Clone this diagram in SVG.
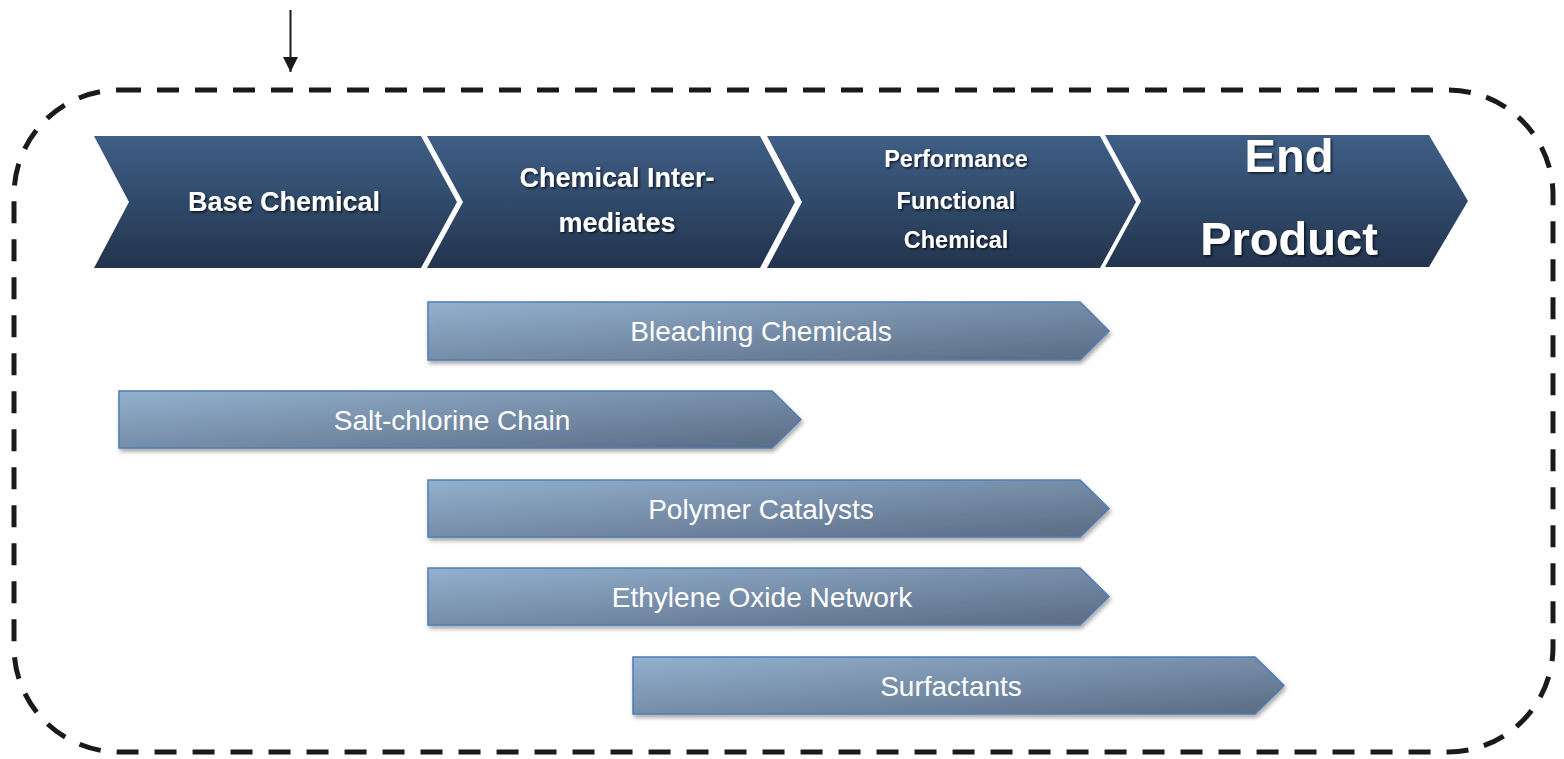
<svg xmlns="http://www.w3.org/2000/svg" width="1564" height="759" viewBox="0 0 1564 759">
<style>
.stage{fill:url(#gStage)}
.bar{fill:url(#gBar);stroke:#4e7db3;stroke-width:1.5;filter:url(#fShadow)}
.st{font-family:"Liberation Sans",Arial,sans-serif;font-weight:bold;fill:#ffffff;text-anchor:middle;filter:url(#fText)}
.bt{font-family:"Liberation Sans",Arial,sans-serif;font-size:28px;fill:#ffffff;text-anchor:middle}
.frame{fill:none;stroke:#1a1a1a;stroke-width:5;stroke-dasharray:22 16}
</style>
<defs>
<linearGradient id="gStage" x1="0" y1="0" x2="0" y2="1">
<stop offset="0" stop-color="#3f5f86"/>
<stop offset="1" stop-color="#22344e"/>
</linearGradient>
<linearGradient id="gBar" x1="0" y1="0" x2="1" y2="1">
<stop offset="0" stop-color="#93b0ce"/>
<stop offset="1" stop-color="#5a6b83"/>
</linearGradient>
<filter id="fShadow" x="-5%" y="-20%" width="110%" height="150%">
<feDropShadow dx="1.5" dy="3" stdDeviation="2" flood-color="#000" flood-opacity="0.35"/>
</filter>
<filter id="fText" x="-10%" y="-20%" width="120%" height="150%">
<feDropShadow dx="1.5" dy="1.5" stdDeviation="1.2" flood-color="#000" flood-opacity="0.7"/>
</filter>
<marker id="mArrow" viewBox="0 0 10 10" refX="10" refY="5" markerWidth="15" markerHeight="15" markerUnits="userSpaceOnUse" orient="auto">
<path d="M0,0 L10,5 L0,10 Z" fill="#1a1a1a"/>
</marker>
</defs>
<rect width="1564" height="759" fill="#ffffff"/>

<g id="connectors">
<line x1="290.5" y1="10" x2="290.5" y2="72" stroke="#1a1a1a" stroke-width="2" marker-end="url(#mArrow)"/>
</g>

<g id="frame">
<rect class="frame" x="14" y="90" width="1539" height="662" rx="105" ry="105"/>
</g>

<g id="stage-base">
<polygon class="stage" points="94,136 421,136 457,202 421,268 94,268 129,202"/>
<text class="st" x="284" y="211" font-size="27">Base Chemical</text>
</g>
<g id="stage-intermediates">
<polygon class="stage" points="427,136 760,136 795,202 760,268 427,268 463,202"/>
<text class="st" x="617" y="187" font-size="27">Chemical Inter-</text>
<text class="st" x="617" y="232" font-size="27">mediates</text>
</g>
<g id="stage-performance">
<polygon class="stage" points="767,136 1100,136 1136,202 1100,268 767,268 802,202"/>
<text class="st" x="956" y="167" font-size="23.5">Performance</text>
<text class="st" x="956" y="209" font-size="23.5">Functional</text>
<text class="st" x="956" y="248" font-size="23.5">Chemical</text>
</g>
<g id="stage-end">
<polygon class="stage" points="1105,135 1429,135 1468,201 1429,267 1105,267 1141,201"/>
<text class="st" x="1289" y="172" font-size="47">End</text>
<text class="st" x="1289" y="255" font-size="47">Product</text>
</g>

<g id="bar-bleaching">
<polygon class="bar" points="428,302 1080,302 1109,331 1080,360 428,360"/>
<text class="bt" x="761" y="341">Bleaching Chemicals</text>
</g>
<g id="bar-salt">
<polygon class="bar" points="119,391 772,391 801,419.5 772,448 119,448"/>
<text class="bt" x="452" y="430">Salt-chlorine Chain</text>
</g>
<g id="bar-polymer">
<polygon class="bar" points="428,480 1080,480 1109,508.5 1080,537 428,537"/>
<text class="bt" x="761" y="518.5">Polymer Catalysts</text>
</g>
<g id="bar-ethylene">
<polygon class="bar" points="428,568 1080,568 1109,596.5 1080,625 428,625"/>
<text class="bt" x="762" y="606.5">Ethylene Oxide Network</text>
</g>
<g id="bar-surfactants">
<polygon class="bar" points="633,657 1255,657 1284,685.5 1255,714 633,714"/>
<text class="bt" x="951" y="695.5">Surfactants</text>
</g>
</svg>
